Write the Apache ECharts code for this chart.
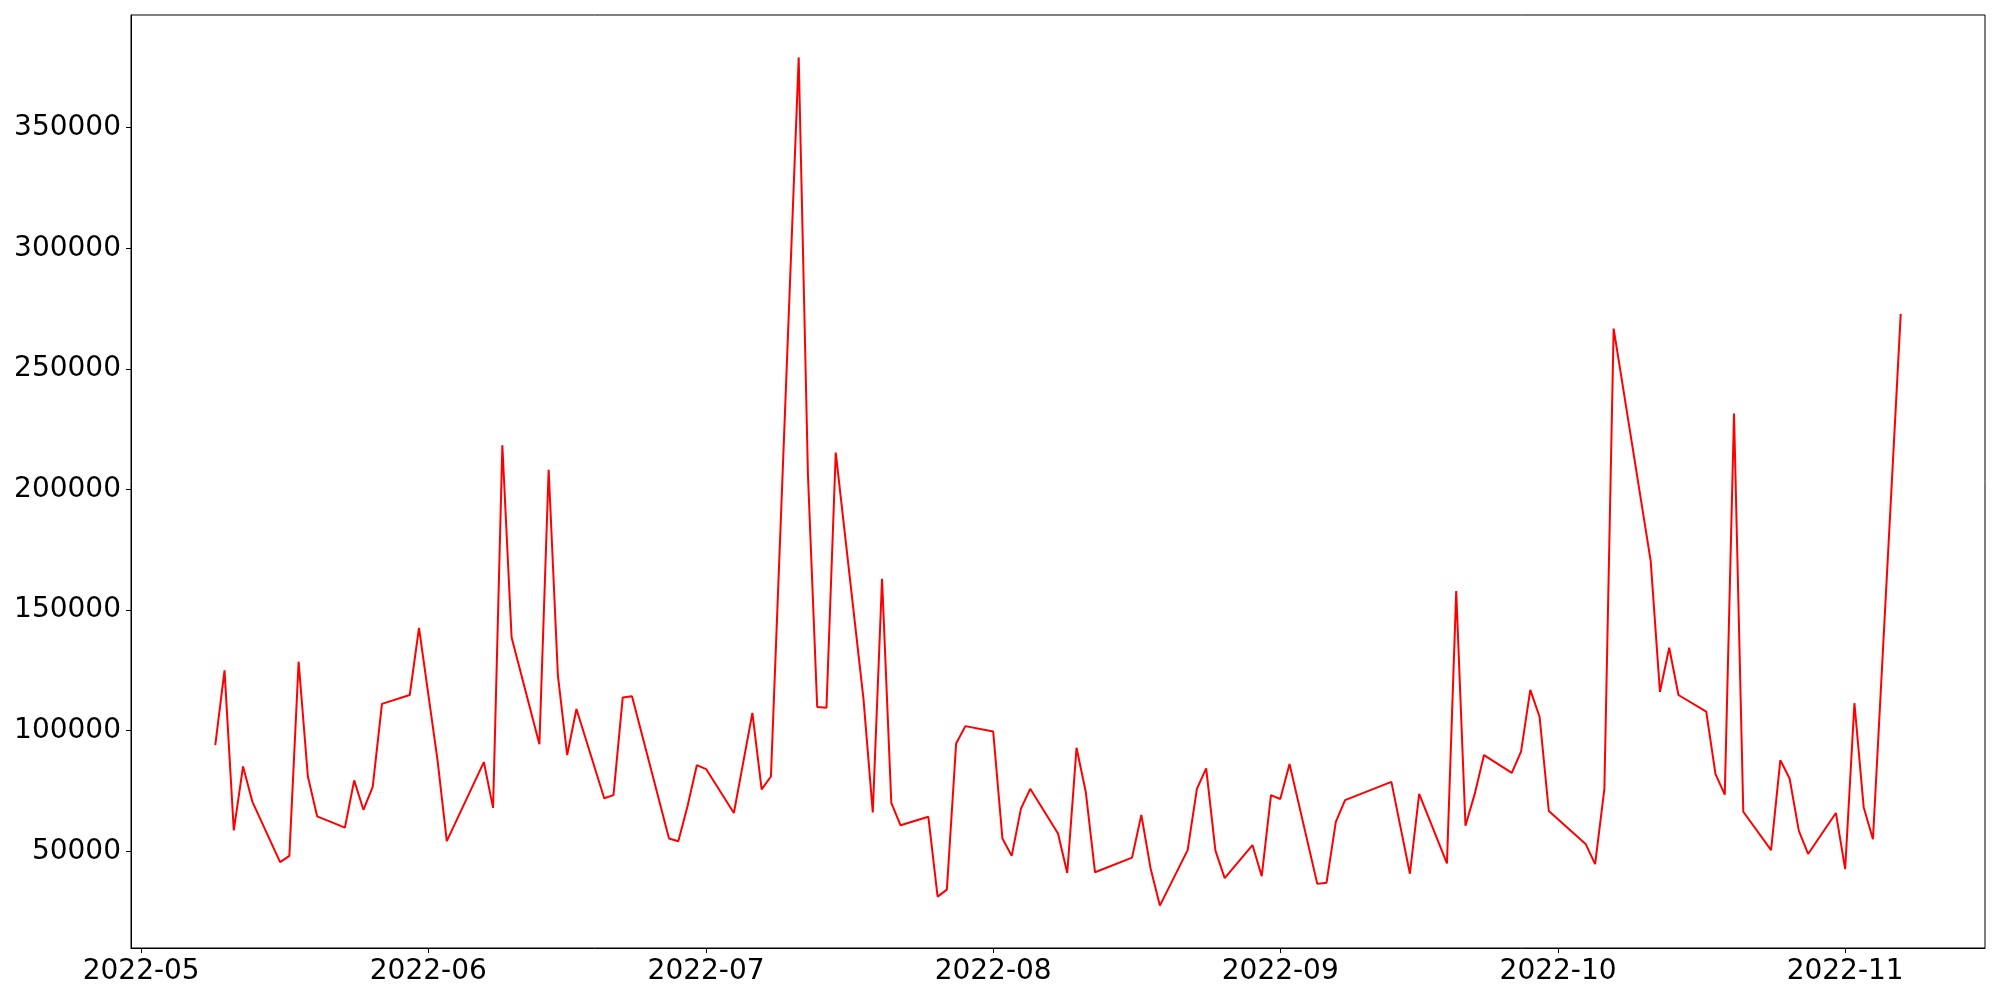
<!DOCTYPE html>
<html>
<head>
<meta charset="utf-8">
<script src="https://cdn.jsdelivr.net/npm/echarts@6/dist/echarts.min.js"></script>
<style>
html,body{margin:0;padding:0;background:#fff;}
#chart{width:2000px;height:1000px;}
</style>
</head>
<body>
<div id="chart"></div>
<script>
const dates = [
'2022-05-09','2022-05-10','2022-05-11','2022-05-12','2022-05-13','2022-05-16','2022-05-17','2022-05-18','2022-05-19','2022-05-20',
'2022-05-23','2022-05-24','2022-05-25','2022-05-26','2022-05-27','2022-05-30','2022-05-31','2022-06-02','2022-06-03','2022-06-07',
'2022-06-08','2022-06-09','2022-06-10','2022-06-13','2022-06-14','2022-06-15','2022-06-16','2022-06-17','2022-06-20','2022-06-21',
'2022-06-22','2022-06-23','2022-06-27','2022-06-28','2022-06-29','2022-06-30','2022-07-01','2022-07-04','2022-07-06','2022-07-07',
'2022-07-08','2022-07-11','2022-07-12','2022-07-13','2022-07-14','2022-07-15','2022-07-18','2022-07-19','2022-07-20','2022-07-21',
'2022-07-22','2022-07-25','2022-07-26','2022-07-27','2022-07-28','2022-07-29','2022-08-01','2022-08-02','2022-08-03','2022-08-04',
'2022-08-05','2022-08-08','2022-08-09','2022-08-10','2022-08-11','2022-08-12','2022-08-16','2022-08-17','2022-08-18','2022-08-19',
'2022-08-22','2022-08-23','2022-08-24','2022-08-25','2022-08-26','2022-08-29','2022-08-30','2022-08-31','2022-09-01','2022-09-02',
'2022-09-05','2022-09-06','2022-09-07','2022-09-08','2022-09-13','2022-09-15','2022-09-16','2022-09-19','2022-09-20','2022-09-21',
'2022-09-22','2022-09-23','2022-09-26','2022-09-27','2022-09-28','2022-09-29','2022-09-30','2022-10-04','2022-10-05','2022-10-06',
'2022-10-07','2022-10-11','2022-10-12','2022-10-13','2022-10-14','2022-10-17','2022-10-18','2022-10-19','2022-10-20','2022-10-21',
'2022-10-24','2022-10-25','2022-10-26','2022-10-27','2022-10-28','2022-10-31','2022-11-01','2022-11-02','2022-11-03','2022-11-04',
'2022-11-07'
];
const values = [
94000,125000,58700,85200,70600,45500,48100,128600,81000,64500,
59800,79400,67200,76700,111100,114800,142600,87800,54200,87000,
68000,218300,138600,94400,208200,122800,89900,109000,72000,73300,
113800,114300,55300,54200,68800,85700,84100,65900,107400,75700,
81000,379100,206000,109800,109500,215300,113000,66100,163000,70100,
60800,64300,31200,34100,94700,101900,99700,55300,48100,67700,
75900,57400,41000,92900,74600,41300,47400,65100,42900,27500,
50500,75900,84400,50300,38900,52600,39700,73300,71700,86200,
36500,37000,62200,71200,78800,40700,73800,45000,157900,60600,
73800,89900,82500,91300,116900,105800,66700,52900,44700,75900,
266700,170400,116100,134400,114800,107900,82000,73500,231500,66400,
50500,87800,80200,58500,48900,65900,42600,111400,68300,55000,
272800
];
const xTickLabels = ['2022-05','2022-06','2022-07','2022-08','2022-09','2022-10','2022-11'];
const yTickValues = [50000,100000,150000,200000,250000,300000,350000];

// dates -> day number (days since 1970-01-01, UTC)
function toDay(s){
  const p = s.split('-').map(Number);
  return Math.round(Date.UTC(p[0], p[1]-1, p.length > 2 ? p[2] : 1) / 86400000);
}
const xs = dates.map(toDay);
const xTicks = xTickLabels.map(toDay);
const t0 = Math.min(...xs), t1 = Math.max(...xs);
const xr = t1 - t0;
const vmin = Math.min(...values), vmax = Math.max(...values);
const yr = vmax - vmin;

const chart = echarts.init(document.getElementById('chart'), null, {renderer:'canvas', width:2000, height:1000});
const font = 'DejaVu Sans';
chart.setOption({
  animation: false,
  backgroundColor: '#ffffff',
  grid: {left:131, right:15, top:15, bottom:52, show:true, borderColor:'#000', borderWidth:1, backgroundColor:'transparent'},
  xAxis: {
    type:'value', min: t0 - 0.05*xr, max: t1 + 0.05*xr,
    splitLine:{show:false},
    axisLine:{show:true, onZero:false, lineStyle:{color:'#000', width:1}},
    axisTick:{show:true, length:5, lineStyle:{color:'#000', width:1}, customValues: xTicks},
    axisLabel:{
      customValues: xTicks, fontSize:28, color:'#000', fontFamily:font, margin:10,
      formatter: function(v){
        const i = xTicks.indexOf(Math.round(v));
        return i >= 0 ? xTickLabels[i] : '';
      }
    }
  },
  yAxis: {
    type:'value', min: vmin - 0.05*yr, max: vmax + 0.05*yr,
    splitLine:{show:false},
    axisLine:{show:true, onZero:false, lineStyle:{color:'#000', width:1}},
    axisTick:{show:true, length:5, lineStyle:{color:'#000', width:1}, customValues: yTickValues},
    axisLabel:{customValues: yTickValues, fontSize:28, color:'#000', fontFamily:font, margin:10,
      formatter: function(v){ return String(v); }}
  },
  series: [{
    type:'line',
    data: xs.map((x,i)=>[x, values[i]]),
    symbol:'none', showSymbol:false,
    lineStyle:{color:'#ff0000', width:2},
    itemStyle:{color:'#ff0000'}
  }]
});
</script>
</body>
</html>
